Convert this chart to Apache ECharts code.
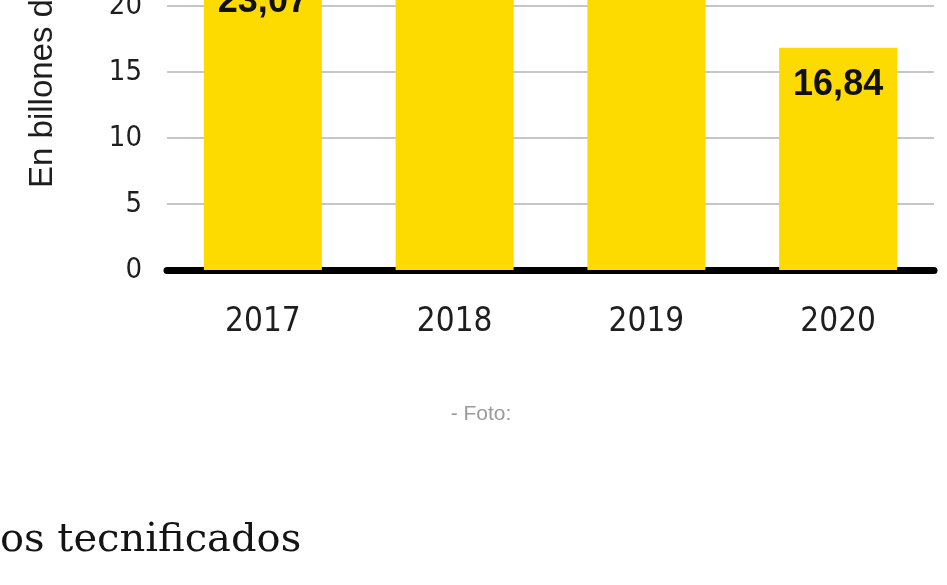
<!DOCTYPE html>
<html>
<head>
<meta charset="utf-8">
<script src="https://cdn.jsdelivr.net/npm/echarts@6/dist/echarts.min.js"></script>
<style>
html,body{margin:0;padding:0;background:#fff;overflow:hidden;width:947px;height:585px;position:relative;}
#chart{width:947px;height:785px;position:absolute;left:0;top:-200px;}
</style>
</head>
<body>
<div id="chart"></div>
<script>
const categories = ['2017', '2018', '2019', '2020'];
const values = [23.07, 25.4, 26.3, 16.84];
const valueLabels = ['23,07', '25,40', '26,30', '16,84'];
const yTicks = [0, 5, 10, 15, 20, 25, 30];
const axisName = 'En billones de pesos';
const caption = '- Foto:';
const heading = 'os tecnificados';

const OFF = 200; // the chart canvas starts 200px above the visible page
const narrow = '"Liberation Sans Narrow", "DejaVu Sans Condensed", "Roboto", sans-serif';

const chart = echarts.init(document.getElementById('chart'), null, {renderer: 'canvas'});
chart.setOption({
  backgroundColor: '#ffffff',
  animation: false,
  grid: {left: 167, right: 13, top: 74, bottom: 315},
  xAxis: {
    type: 'category',
    data: categories,
    axisLine: {show: true, lineStyle: {color: '#000', width: 7}},
    axisTick: {show: false},
    axisLabel: {color: '#1e1e1e', fontSize: 33, fontFamily: narrow, margin: 36}
  },
  yAxis: {
    type: 'value',
    min: yTicks[0],
    max: yTicks[yTicks.length - 1],
    interval: 5,
    axisLine: {show: false},
    axisTick: {show: false},
    axisLabel: {color: '#1e1e1e', fontSize: 29, fontFamily: narrow, margin: 25},
    splitLine: {show: true, lineStyle: {color: '#c6c6c6', width: 2}}
  },
  series: [{
    type: 'bar',
    data: values,
    barWidth: 118,
    itemStyle: {color: '#FEDB00'},
    label: {
      show: true,
      position: 'insideTop',
      distance: 19,
      formatter: p => valueLabels[p.dataIndex],
      color: '#111',
      fontSize: 36,
      fontWeight: 'bold',
      fontFamily: '"Liberation Sans", Arial, sans-serif'
    }
  }],
  graphic: [
    {
      type: 'text',
      x: 43, y: 188 + OFF,
      rotation: Math.PI / 2,
      style: {
        text: axisName,
        fill: '#1e1e1e',
        font: '33px "Liberation Sans", Arial, sans-serif',
        textAlign: 'left',
        textVerticalAlign: 'middle'
      }
    },
    {
      type: 'text',
      x: 481, y: 414 + OFF,
      style: {
        text: caption,
        fill: '#9a9a9a',
        font: '21px "Liberation Sans", Arial, sans-serif',
        textAlign: 'center',
        textVerticalAlign: 'middle'
      }
    },
    {
      type: 'text',
      x: 0, y: 541 + OFF,
      style: {
        text: heading,
        fill: '#141414',
        font: '40px "DejaVu Serif", "Liberation Serif", serif',
        textAlign: 'left',
        textVerticalAlign: 'middle'
      }
    }
  ]
});
</script>
</body>
</html>
